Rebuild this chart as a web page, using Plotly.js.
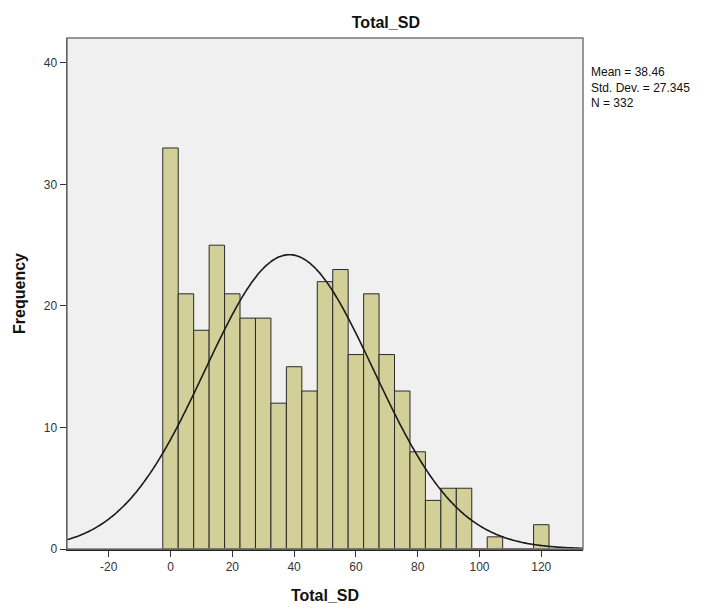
<!DOCTYPE html>
<html>
<head>
<meta charset="utf-8">
<script src="https://cdn.plot.ly/plotly-3.0.1.min.js"></script>
<style>html,body{margin:0;padding:0;background:#fff;}#chart{width:708px;height:611px;}</style>
</head>
<body>
<div id="chart"></div>
<script>
// Histogram bins (centers, width 5) and frequencies
const binCenters = [0, 5, 10, 15, 20, 25, 30, 35, 40, 45, 50, 55, 60, 65, 70, 75, 80, 85, 90, 95, 100, 105, 110, 115, 120];
const frequencies = [33, 21, 18, 25, 21, 19, 19, 12, 15, 13, 22, 23, 16, 21, 16, 13, 8, 4, 5, 5, 0, 1, 0, 0, 2];
const binWidth = 5;
const statMean = 38.46;
const statSD = 27.345;
const statN = 332;
const xTickVals = [-20, 0, 20, 40, 60, 80, 100, 120];
const xTickText = ['-20', '0', '20', '40', '60', '80', '100', '120'];
const yTickVals = [0, 10, 20, 30, 40];
const yTickText = ['0', '10', '20', '30', '40'];

// Normal curve overlay as drawn by SPSS: N * binWidth * pdf(x)
const curveX = [];
const curveY = [];
for (let x = -33.5; x <= 133.5; x += 0.5) {
  curveX.push(x);
  const z = (x - statMean) / statSD;
  curveY.push(statN * binWidth * Math.exp(-0.5 * z * z) / (statSD * Math.sqrt(2 * Math.PI)));
}

const font = "Arial, 'Liberation Sans', sans-serif";

const traces = [
  {
    type: 'bar', x: binCenters, y: frequencies, width: binWidth,
    marker: {color: '#d3cf98', line: {color: '#2a2a2a', width: 1}},
    hoverinfo: 'skip', showlegend: false
  },
  {
    type: 'scatter', mode: 'lines', x: curveX, y: curveY,
    line: {color: '#1a1a1a', width: 1.6, shape: 'spline'},
    hoverinfo: 'skip', showlegend: false
  }
];

const layout = {
  width: 708, height: 611,
  margin: {l: 67, r: 125, t: 38, b: 62},
  paper_bgcolor: '#ffffff',
  plot_bgcolor: '#f0f0f0',
  font: {family: font, color: '#222', size: 12},
  bargap: 0,
  title: {text: '<b>Total_SD</b>', font: {family: font, size: 16, color: '#111'},
          x: 0.545, xref: 'container', xanchor: 'center', y: 0.964, yref: 'container', yanchor: 'middle'},
  xaxis: {
    range: [-33.5, 133.5], tickvals: xTickVals, ticktext: xTickText, ticks: 'outside', ticklen: 6, tickcolor: '#333',
    showgrid: false, zeroline: false, showline: true, linecolor: '#222', linewidth: 1.5,
    tickfont: {family: font, size: 12, color: '#333'},
    title: {text: '<b>Total_SD</b>', font: {family: font, size: 16, color: '#111'}, standoff: 17}
  },
  yaxis: {
    range: [0, 42.05], tickvals: yTickVals, ticktext: yTickText, ticks: 'outside', ticklen: 6, tickcolor: '#333',
    showgrid: false, zeroline: false, showline: true, linecolor: '#222', linewidth: 1.5,
    tickfont: {family: font, size: 12, color: '#333'},
    title: {text: '<b>Frequency</b>', font: {family: font, size: 16, color: '#111'}, standoff: 14}
  },
  shapes: [
    {type: 'rect', xref: 'paper', yref: 'paper', x0: 0, x1: 1, y0: 0, y1: 1,
     line: {color: '#777', width: 1.5}, fillcolor: 'rgba(0,0,0,0)', layer: 'above'}
  ],
  annotations: [
    {xref: 'paper', yref: 'paper', x: 1.0, y: 1.0, xanchor: 'left', yanchor: 'top', xshift: 6, yshift: -25,
     align: 'left', showarrow: false,
     text: 'Mean = ' + statMean.toFixed(2) + '<br>Std. Dev. = ' + statSD.toFixed(3) + '<br>N = ' + statN,
     font: {family: font, size: 12, color: '#111'}}
  ]
};

Plotly.newPlot('chart', traces, layout, {displayModeBar: false, staticPlot: true});
</script>
</body>
</html>
